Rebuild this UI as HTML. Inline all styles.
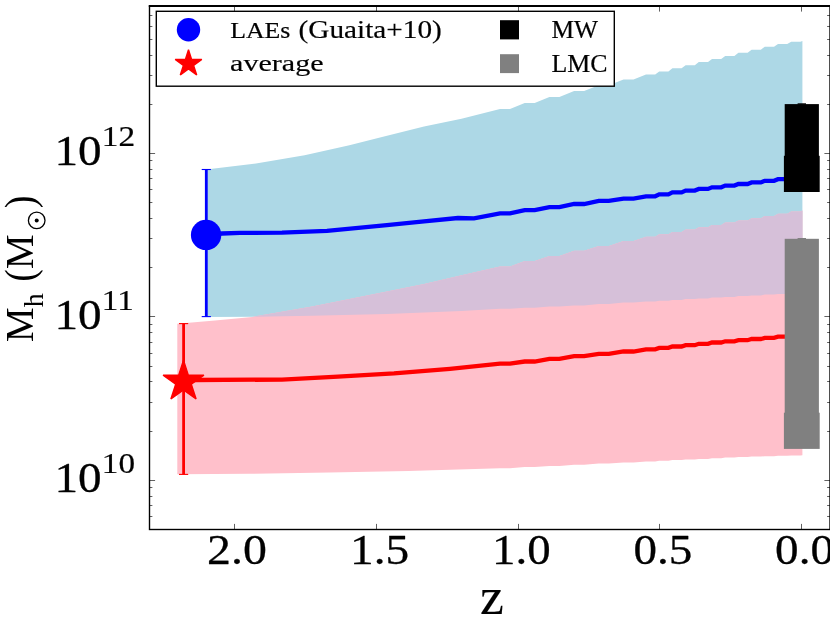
<!DOCTYPE html>
<html><head><meta charset="utf-8"><title>M_h vs z</title>
<style>
html,body{margin:0;padding:0;background:#fff;}
body{width:830px;height:623px;overflow:hidden;font-family:"Liberation Serif",serif;}
svg{display:block;}
svg text{font-family:"Liberation Serif",serif;fill:#000;}
</style></head><body>
<svg width="830" height="623" viewBox="0 0 830 623">
<rect x="0" y="0" width="830" height="623" fill="#fff"/>
<polygon points="206.1,169.5 256.0,163.6 304.6,155.3 349.4,145.3 383.0,136.8 424.0,126.6 461.5,118.7 500.0,109.1 510.0,109.1 524.7,103.1 534.7,103.1 549.4,97.0 559.4,97.0 574.1,91.0 584.1,91.0 598.8,85.3 608.8,85.3 623.5,79.6 633.5,79.6 646.0,74.5 655.2,74.5 659.2,71.4 668.4,71.4 672.4,68.3 681.6,68.3 685.6,65.2 694.8,65.2 698.8,62.1 708.0,62.1 712.0,59.0 721.2,59.0 725.2,55.9 734.4,55.9 738.4,52.8 747.6,52.8 751.6,49.7 760.8,49.7 764.8,46.7 774.0,46.7 778.0,44.0 787.2,44.0 791.2,41.7 800.4,41.7 802.4,41.0 802.4,292.8 800.4,293.2 791.2,293.2 787.2,293.9 778.0,293.9 774.0,294.6 764.8,294.6 760.8,295.4 751.6,295.4 747.6,296.1 738.4,296.1 734.4,296.9 725.2,296.9 721.2,297.6 712.0,297.6 708.0,298.4 698.8,298.4 694.8,299.1 685.6,299.1 681.6,299.9 672.4,299.9 668.4,300.7 659.2,300.7 655.2,301.4 646.0,301.4 633.5,302.6 623.5,302.6 608.8,304.0 598.8,304.0 584.1,305.4 574.1,305.4 559.4,306.5 549.4,306.5 534.7,307.7 524.7,307.7 510.0,308.8 500.0,308.8 461.5,310.9 386.8,313.9 312.0,315.8 256.0,316.8 206.1,317.0" fill="#add8e6" />
<polygon points="177.3,323.7 215.0,320.5 252.3,316.9 312.0,306.5 349.4,299.0 386.8,291.5 424.0,284.0 461.5,275.2 500.0,266.4 510.0,266.4 524.7,261.1 534.7,261.1 549.4,255.9 559.4,255.9 574.1,250.7 584.1,250.7 598.8,245.9 608.8,245.9 623.5,241.0 633.5,241.0 646.0,236.7 655.2,236.7 659.2,234.3 668.4,234.3 672.4,232.0 681.6,232.0 685.6,229.6 694.8,229.6 698.8,227.3 708.0,227.3 712.0,224.9 721.2,224.9 725.2,222.6 734.4,222.6 738.4,220.4 747.6,220.4 751.6,218.2 760.8,218.2 764.8,216.0 774.0,216.0 778.0,213.7 787.2,213.7 791.2,211.5 800.4,211.5 802.4,210.4 802.4,455.2 800.4,455.4 791.2,455.4 787.2,455.8 778.0,455.8 774.0,456.2 764.8,456.2 760.8,456.6 751.6,456.6 747.6,457.1 738.4,457.1 734.4,457.6 725.2,457.6 721.2,458.3 712.0,458.3 708.0,458.9 698.8,458.9 694.8,459.5 685.6,459.5 681.6,460.1 672.4,460.1 668.4,460.8 659.2,460.8 655.2,461.4 646.0,461.4 633.5,462.5 623.5,462.5 608.8,463.6 598.8,463.6 584.1,464.8 574.1,464.8 559.4,465.9 549.4,465.9 534.7,467.1 524.7,467.1 510.0,468.2 500.0,468.2 408.6,471.0 329.0,472.6 250.0,473.8 177.3,474.3" fill="#ffc0cb" />
<polygon points="252.3,316.9 312.0,306.5 349.4,299.0 386.8,291.5 424.0,284.0 461.5,275.2 500.0,266.4 510.0,266.4 524.7,261.1 534.7,261.1 549.4,255.9 559.4,255.9 574.1,250.7 584.1,250.7 598.8,245.9 608.8,245.9 623.5,241.0 633.5,241.0 646.0,236.7 655.2,236.7 659.2,234.3 668.4,234.3 672.4,232.0 681.6,232.0 685.6,229.6 694.8,229.6 698.8,227.3 708.0,227.3 712.0,224.9 721.2,224.9 725.2,222.6 734.4,222.6 738.4,220.4 747.6,220.4 751.6,218.2 760.8,218.2 764.8,216.0 774.0,216.0 778.0,213.7 787.2,213.7 791.2,211.5 800.4,211.5 802.4,210.4 802.4,292.8 800.4,293.2 791.2,293.2 787.2,293.9 778.0,293.9 774.0,294.6 764.8,294.6 760.8,295.4 751.6,295.4 747.6,296.1 738.4,296.1 734.4,296.9 725.2,296.9 721.2,297.6 712.0,297.6 708.0,298.4 698.8,298.4 694.8,299.1 685.6,299.1 681.6,299.9 672.4,299.9 668.4,300.7 659.2,300.7 655.2,301.4 646.0,301.4 633.5,302.6 623.5,302.6 608.8,304.0 598.8,304.0 584.1,305.4 574.1,305.4 559.4,306.5 549.4,306.5 534.7,307.7 524.7,307.7 510.0,308.8 500.0,308.8 461.5,310.9 386.8,313.9 312.0,315.8 256.0,316.8 252.3,316.9" fill="#d6c0d9" />
<polyline points="206.1,235.0 222.0,233.5 240.0,232.9 282.0,232.6 327.0,230.8 386.8,225.2 424.0,221.4 458.0,218.0 474.0,218.3 500.0,213.4 510.0,213.4 524.7,210.2 534.7,210.2 549.4,207.2 559.4,207.2 574.1,204.0 584.1,204.0 598.8,200.9 608.8,200.9 623.5,198.6 633.5,198.6 646.0,196.3 655.2,196.3 659.2,194.4 668.4,194.4 672.4,192.4 681.6,192.4 685.6,190.6 694.8,190.6 698.8,188.9 708.0,188.9 712.0,187.3 721.2,187.3 725.2,185.6 734.4,185.6 738.4,184.0 747.6,184.0 751.6,182.4 760.8,182.4 764.8,180.8 774.0,180.8 778.0,179.2 787.2,179.2 791.2,177.5 800.4,177.5 801.7,176.8" fill="none" stroke="#00f" stroke-width="4.3" stroke-linejoin="miter"/>
<polyline points="177.3,381.0 195.0,380.0 282.0,379.6 338.0,376.6 394.0,373.4 450.0,368.8 500.0,363.6 510.0,363.6 524.7,361.5 534.7,361.5 549.4,358.9 559.4,358.9 574.1,356.2 584.1,356.2 598.8,353.9 608.8,353.9 623.5,351.5 633.5,351.5 646.0,349.3 655.2,349.3 659.2,347.9 668.4,347.9 672.4,346.5 681.6,346.5 685.6,345.2 694.8,345.2 698.8,343.8 708.0,343.8 712.0,342.5 721.2,342.5 725.2,341.3 734.4,341.3 738.4,340.2 747.6,340.2 751.6,339.0 760.8,339.0 764.8,337.9 774.0,337.9 778.0,336.7 787.2,336.7 791.2,335.5 800.4,335.5 801.7,335.0" fill="none" stroke="#f00" stroke-width="4.3" stroke-linejoin="miter"/>
<line x1="206.3" y1="169.5" x2="206.3" y2="316.6" stroke="#00f" stroke-width="2.8"/><line x1="201.7" y1="169.5" x2="210.9" y2="169.5" stroke="#00f" stroke-width="1.1"/><line x1="201.7" y1="316.6" x2="210.9" y2="316.6" stroke="#00f" stroke-width="1.1"/>
<line x1="183.6" y1="323.6" x2="183.6" y2="474.4" stroke="#f00" stroke-width="2.8"/><line x1="179.0" y1="323.6" x2="188.2" y2="323.6" stroke="#f00" stroke-width="1.1"/><line x1="179.0" y1="474.4" x2="188.2" y2="474.4" stroke="#f00" stroke-width="1.1"/>
<circle cx="206.1" cy="234.9" r="15.2" fill="#00f"/>
<polygon points="183.5,360.3 188.3,375.1 203.9,375.1 191.3,384.2 196.1,399.0 183.5,389.9 170.9,399.0 175.7,384.2 163.1,375.1 178.7,375.1" fill="#f00" stroke="#f00" stroke-width="1.4" stroke-linejoin="bevel"/>
<rect x="784.7" y="104.1" width="34.2" height="70" fill="#000"/>
<rect x="783.9" y="155.8" width="35.8" height="36.2" fill="#000"/>
<rect x="797.6" y="103.3" width="8.4" height="1.4" fill="#000"/>
<rect x="784.7" y="238.8" width="34.2" height="190" fill="#808080"/>
<rect x="783.9" y="412.7" width="35.8" height="36.2" fill="#808080"/>
<rect x="797.6" y="238.0" width="8.4" height="1.4" fill="#808080"/>
<path d="M234.5 529.50v-5.6M234.5 6.00v5.6M376.5 529.50v-5.6M376.5 6.00v5.6M518.5 529.50v-5.6M518.5 6.00v5.6M659.5 529.50v-5.6M659.5 6.00v5.6M801.5 529.50v-5.6M801.5 6.00v5.6M149.50 529.5h2.90M830.00 529.5h-2.90M149.50 516.5h2.90M830.00 516.5h-2.90M149.50 505.5h2.90M830.00 505.5h-2.90M149.50 496.5h2.90M830.00 496.5h-2.90M149.50 487.5h2.90M830.00 487.5h-2.90M149.50 480.5h5.60M830.00 480.5h-5.60M149.50 431.5h2.90M830.00 431.5h-2.90M149.50 402.5h2.90M830.00 402.5h-2.90M149.50 381.5h2.90M830.00 381.5h-2.90M149.50 366.5h2.90M830.00 366.5h-2.90M149.50 353.5h2.90M830.00 353.5h-2.90M149.50 342.5h2.90M830.00 342.5h-2.90M149.50 332.5h2.90M830.00 332.5h-2.90M149.50 324.5h2.90M830.00 324.5h-2.90M149.50 316.5h5.60M830.00 316.5h-5.60M149.50 267.5h2.90M830.00 267.5h-2.90M149.50 238.5h2.90M830.00 238.5h-2.90M149.50 218.5h2.90M830.00 218.5h-2.90M149.50 202.5h2.90M830.00 202.5h-2.90M149.50 189.5h2.90M830.00 189.5h-2.90M149.50 178.5h2.90M830.00 178.5h-2.90M149.50 169.5h2.90M830.00 169.5h-2.90M149.50 160.5h2.90M830.00 160.5h-2.90M149.50 153.5h5.60M830.00 153.5h-5.60M149.50 104.5h2.90M830.00 104.5h-2.90M149.50 75.5h2.90M830.00 75.5h-2.90M149.50 55.5h2.90M830.00 55.5h-2.90M149.50 39.5h2.90M830.00 39.5h-2.90M149.50 26.5h2.90M830.00 26.5h-2.90M149.50 15.5h2.90M830.00 15.5h-2.90M149.50 5.5h2.90M830.00 5.5h-2.90" stroke="#000" stroke-opacity="0.62" stroke-width="1" fill="none"/>
<rect x="149.50" y="6.00" width="680.50" height="523.50" fill="none" stroke="#000" stroke-width="1.39"/>
<line x1="148.80" y1="6.0" x2="830" y2="6.0" stroke="#000" stroke-width="1.85"/>
<rect x="156.3" y="11.3" width="458.0" height="74.9" fill="#fff" stroke="#000" stroke-width="1.39"/>
<circle cx="188.5" cy="29.8" r="11.7" fill="#00f"/>
<polygon points="188.5,49.7 191.6,59.4 201.8,59.4 193.6,65.4 196.7,75.0 188.5,69.0 180.3,75.0 183.4,65.4 175.2,59.4 185.4,59.4" fill="#f00" stroke="#f00" stroke-width="1.4" stroke-linejoin="bevel"/>
<rect x="500" y="20.2" width="19" height="19.2" fill="#000"/>
<rect x="500" y="54.2" width="19" height="18.9" fill="#808080"/>
<g opacity="0.999">
<text transform="translate(54.42 165.14) scale(0.4719 0.4294)" font-size="100" stroke="#000" stroke-width="0.67" stroke-linejoin="round">10</text>
<text transform="translate(101.83 146.41) scale(0.3333 0.2853)" font-size="100" stroke="#000" stroke-width="0.78" stroke-linejoin="round">12</text>
<text transform="translate(54.42 328.54) scale(0.4719 0.4294)" font-size="100" stroke="#000" stroke-width="0.67" stroke-linejoin="round">10</text>
<text transform="translate(101.85 309.81) scale(0.3313 0.2853)" font-size="100" stroke="#000" stroke-width="0.78" stroke-linejoin="round">11</text>
<text transform="translate(54.42 491.94) scale(0.4719 0.4294)" font-size="100" stroke="#000" stroke-width="0.67" stroke-linejoin="round">10</text>
<text transform="translate(101.85 473.21) scale(0.3315 0.2853)" font-size="100" stroke="#000" stroke-width="0.78" stroke-linejoin="round">10</text>
<text transform="translate(207.08 563.95) scale(0.4788 0.4235)" font-size="100" stroke="#000" stroke-width="0.66" stroke-linejoin="round">2.0</text>
<text transform="translate(350.01 563.95) scale(0.4735 0.4235)" font-size="100" stroke="#000" stroke-width="0.67" stroke-linejoin="round">1.5</text>
<text transform="translate(492.05 563.95) scale(0.4693 0.4235)" font-size="100" stroke="#000" stroke-width="0.67" stroke-linejoin="round">1.0</text>
<text transform="translate(633.39 563.95) scale(0.4703 0.4235)" font-size="100" stroke="#000" stroke-width="0.67" stroke-linejoin="round">0.5</text>
<text transform="translate(775.09 563.95) scale(0.4714 0.4235)" font-size="100" stroke="#000" stroke-width="0.67" stroke-linejoin="round">0.0</text>
<text transform="translate(479.93 613.80) scale(0.5375 0.5174)" font-size="100" stroke="#000" stroke-width="0.28" stroke-linejoin="round">z</text>
<text transform="translate(230.18 37.86) scale(0.2579 0.2403)" font-size="100" stroke="#000" stroke-width="0.80" stroke-linejoin="round">LAEs</text>
<text transform="translate(298.53 37.86) scale(0.2927 0.2439)" font-size="100" stroke="#000" stroke-width="0.75" stroke-linejoin="round">(Guaita+10)</text>
<text transform="translate(230.10 71.47) scale(0.3010 0.2397)" font-size="100" stroke="#000" stroke-width="0.74" stroke-linejoin="round">average</text>
<text transform="translate(551.49 37.95) scale(0.2544 0.2478)" font-size="100" stroke="#000" stroke-width="0.80" stroke-linejoin="round">MW</text>
<text transform="translate(551.48 71.75) scale(0.2586 0.2463)" font-size="100" stroke="#000" stroke-width="0.79" stroke-linejoin="round">LMC</text>
<text transform="translate(33.11 342.17) rotate(-90) scale(0.3916 0.3939)" font-size="100">M</text>
<text transform="translate(43.24 307.28) rotate(-90) scale(0.2812 0.2643)" font-size="100">h</text>
<text transform="translate(34.13 281.46) rotate(-90) scale(0.3654 0.4222)" font-size="100">(</text>
<text transform="translate(33.11 269.17) rotate(-90) scale(0.3916 0.3939)" font-size="100">M</text>
<text transform="translate(34.13 208.15) rotate(-90) scale(0.3846 0.4222)" font-size="100">)</text>
<circle cx="36.7" cy="220.4" r="8.3" fill="none" stroke="#000" stroke-width="1.3"/><circle cx="36.7" cy="220.4" r="2.0" fill="#000"/>
</g>
</svg>
</body></html>
